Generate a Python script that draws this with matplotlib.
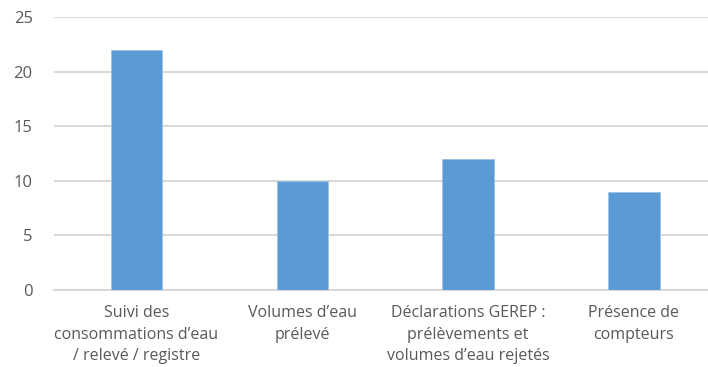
import matplotlib.pyplot as plt

categories = [
    "Suivi des\nconsommations d\u2019eau\n/ relev\u00e9 / registre",
    "Volumes d\u2019eau\npr\u00e9lev\u00e9",
    "D\u00e9clarations GEREP :\npr\u00e9l\u00e8vements et\nvolumes d\u2019eau rejet\u00e9s",
    "Pr\u00e9sence de\ncompteurs",
]
counts = [22, 10, 12, 9]
y_ticks = [0, 5, 10, 15, 20, 25]

plt.rcParams["font.family"] = ["Open Sans", "DejaVu Sans"]
text_color = "#595959"
grid_color = "#D9D9D9"

fig = plt.figure(figsize=(7.08, 3.67), dpi=100)
ax = fig.add_axes([0.0756, 0.2098, 0.937, 0.744])

x = range(len(categories))
ax.bar(x, counts, width=0.31, color="#5B9BD5", edgecolor="#9DC3E6", linewidth=0.6, zorder=3)

ax.set_xlim(-0.5, len(categories) - 0.5)
ax.set_ylim(0, 25)
ax.set_yticks(y_ticks)
ax.set_xticks(list(x))
ax.set_xticklabels(categories, fontsize=11.5, color=text_color, linespacing=1.45)
ax.tick_params(axis="y", labelsize=12, colors=text_color, length=0, pad=15)
ax.tick_params(axis="x", length=0, pad=11)
for lbl in ax.get_yticklabels():
    lbl.set_color(text_color)

ax.grid(axis="y", color=grid_color, linewidth=1.5, zorder=0)
for side in ("top", "right", "left"):
    ax.spines[side].set_visible(False)
ax.spines["bottom"].set_color(grid_color)
ax.spines["bottom"].set_linewidth(1.5)

fig.savefig("out.png", dpi=100)
